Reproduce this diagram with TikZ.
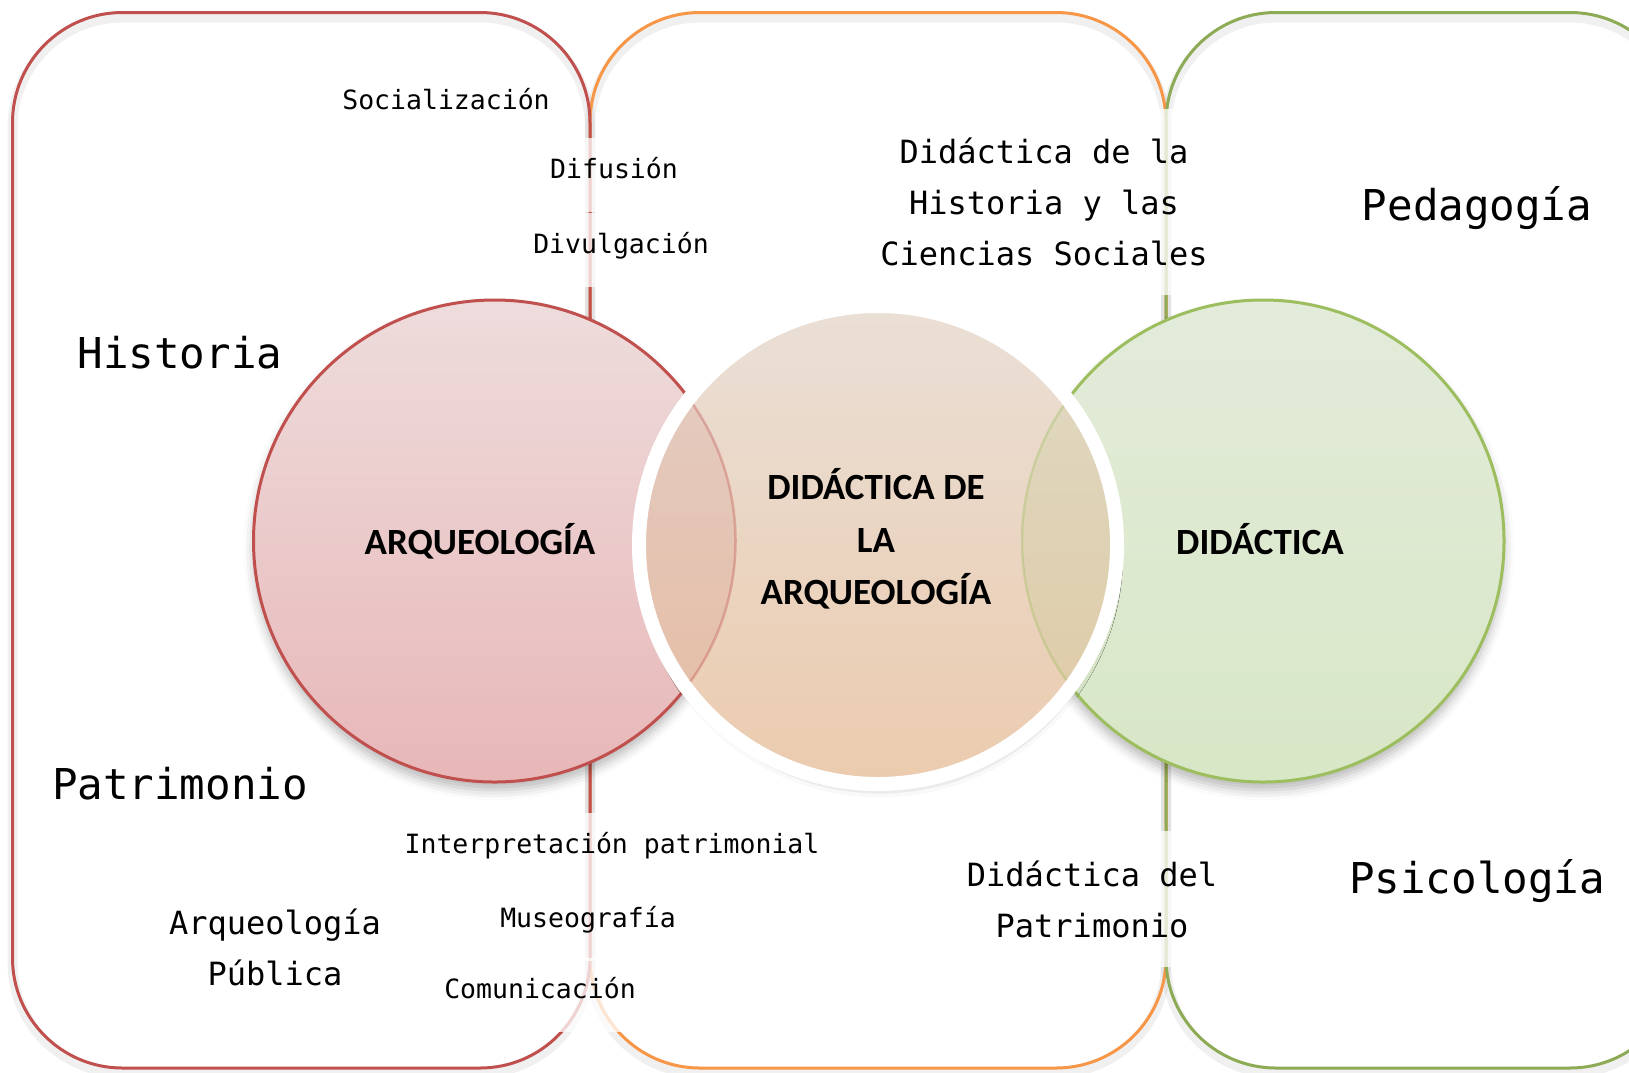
\documentclass[tikz,border=0pt]{standalone}
\usepackage{fontspec}
\setmonofont{DejaVu Sans Mono}
\newfontfamily\calfont{Carlito}
\usepackage{tikz}
\usetikzlibrary{shadows.blur}

\definecolor{arqline}{HTML}{C0504D}
\definecolor{orgline}{HTML}{F79646}
\definecolor{didline}{HTML}{8DAA55}
\definecolor{didcirc}{HTML}{9DBE5F}
\definecolor{arqtop}{HTML}{EEDCDC}
\definecolor{arqbot}{HTML}{E8B7B8}
\definecolor{didtop}{HTML}{E3EBDA}
\definecolor{didbot}{HTML}{D8E7C6}
\definecolor{midtop}{HTML}{EADFD6}
\definecolor{midbot}{HTML}{EBCBAE}

\tikzset{
  area/.style={line width=3pt, rounded corners=110pt},
  patch/.style={fill=white, fill opacity=.75, text opacity=1, inner xsep=10pt},
  small/.style={patch, font=\ttfamily\fontsize{26.5}{32}\selectfont, text height=.72em, text depth=0pt, minimum height=74pt},
  mid/.style={patch, align=center, inner ysep=29pt, font=\ttfamily\fontsize{32}{51}\selectfont},
  big/.style={font=\ttfamily\fontsize{42.5}{50}\selectfont},
  disc/.style={circle, line width=3pt, minimum size=482pt,
    blur shadow={shadow xshift=0pt, shadow yshift=-8pt, shadow blur radius=10pt, shadow opacity=28}},
  disclbl/.style={align=center, font=\calfont\bfseries\fontsize{37}{52.5}\selectfont}
}

\begin{document}
\begin{tikzpicture}[x=1pt,y=-1pt]
\clip (0,0) rectangle (1629,1072);

% soft shadow under the three areas
\foreach \xa/\xb in {590/1166, 12.5/590, 1166/1680}
  \draw[black, opacity=.06, line width=10pt, rounded corners=110pt, yshift=-5pt] (\xa,12.5) rectangle (\xb,1068);

\draw[area, draw=orgline] (590,12.5) rectangle (1166,1068);
\draw[area, draw=arqline] (12.5,12.5) rectangle (590,1068);
\draw[area, draw=didline] (1166,12.5) rectangle (1680,1068);

% circles
\node (arq) [disc, draw=arqline, top color=arqtop, bottom color=arqbot] at (494.5,541) {};
\node (did) [disc, draw=didcirc, top color=didtop, bottom color=didbot] at (1263,541) {};
\node (mid) [disc, minimum size=478pt, draw=white, line width=14pt, top color=midtop, bottom color=midbot,
  blur shadow={shadow yshift=-10pt, shadow scale=.96, shadow blur radius=14pt, shadow opacity=20}] at (878,545) {};

\begin{scope}
  \clip (mid.center) circle[radius=232];
  \fill[arqline, opacity=.12] (arq.center) circle[radius=241];
  \fill[didcirc, opacity=.14] (did.center) circle[radius=241];
  \draw[arqline, opacity=.35, line width=2.5pt] (arq.center) circle[radius=241];
  \draw[didcirc, opacity=.35, line width=2.5pt] (did.center) circle[radius=241];
\end{scope}

\node (arqtxt) [disclbl] at (480,541) {ARQUEOLOGÍA};
\node (midtxt) [disclbl] at (876,539) {DIDÁCTICA DE\\LA\\ARQUEOLOGÍA};
\node (didtxt) [disclbl] at (1260,539) {DIDÁCTICA};

% labels
\node (soc) [small] at (446,106) {Socialización};
\node (dif) [small] at (614,175) {Difusión};
\node (div) [small] at (621,250) {Divulgación};
\node (interp) [small] at (612,850) {Interpretación patrimonial};
\node (museo) [small] at (588,924) {Museografía};
\node (comu) [small] at (540,995) {Comunicación};

\node (dhcs) [mid] at (1044,202) {Didáctica de la\\Historia y las\\Ciencias Sociales};
\node (dpat) [mid] at (1092,899) {Didáctica del\\Patrimonio};
\node (arqpub) [mid] at (275,947) {Arqueología\\Pública};

\node (hist) [big] at (180,353) {Historia};
\node (patr) [big] at (180,784) {Patrimonio};
\node (peda) [big] at (1477,208) {Pedagogía};
\node (psic) [big] at (1477,881) {Psicología};
\end{tikzpicture}
\end{document}
